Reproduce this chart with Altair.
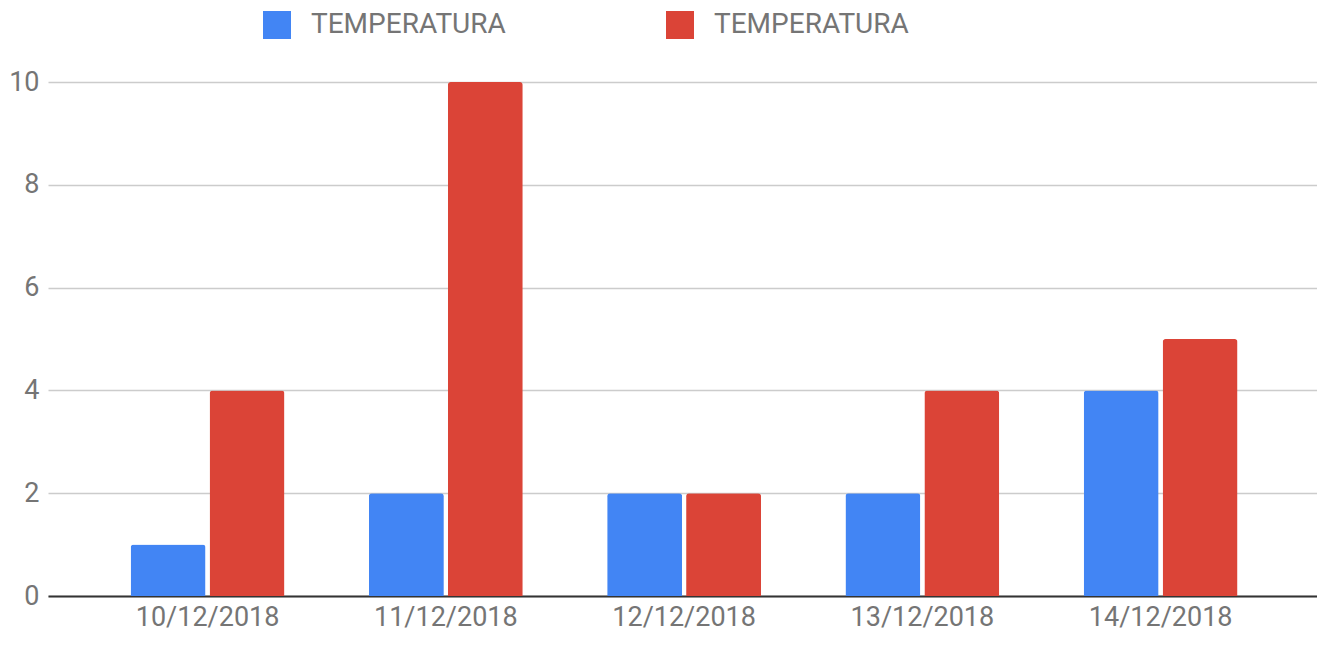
import altair as alt
import pandas as pd

dates = ["10/12/2018", "11/12/2018", "12/12/2018", "13/12/2018", "14/12/2018"]
series_names = ["TEMPERATURA (1)", "TEMPERATURA (2)"]
blue_vals = [1, 2, 2, 2, 4]
red_vals = [4, 10, 2, 4, 5]
y_ticks = [0, 2, 4, 6, 8, 10]
colors = ["#4285F4", "#DB4437"]

rows = []
for d, b, r in zip(dates, blue_vals, red_vals):
    rows.append({"fecha": d, "serie": series_names[0], "valor": b})
    rows.append({"fecha": d, "serie": series_names[1], "valor": r})
df = pd.DataFrame(rows)

FONT = "Roboto"
GREY = "#757575"

chart = alt.Chart(df).mark_bar(cornerRadiusTopLeft=3, cornerRadiusTopRight=3).encode(
    x=alt.X(
        "fecha:N", sort=dates, title=None,
        scale=alt.Scale(paddingInner=0.354, paddingOuter=0.34, align=0.51),
        axis=alt.Axis(labelAngle=0, labelFont=FONT, labelFontSize=27, labelColor=GREY,
                      ticks=False, tickSize=0, labelPadding=8,
                      domainColor="#333333", domainWidth=2, grid=False),
    ),
    xOffset=alt.XOffset("serie:N", sort=series_names,
                        scale=alt.Scale(paddingInner=0.05, paddingOuter=0)),
    y=alt.Y(
        "valor:Q", title=None, scale=alt.Scale(domain=[0, 10]),
        axis=alt.Axis(values=y_ticks, labelFont=FONT, labelFontSize=27, labelColor=GREY,
                      ticks=False, tickSize=0, labelPadding=9, domain=False,
                      gridColor="#cccccc", gridWidth=1.5),
    ),
    color=alt.Color(
        "serie:N", sort=series_names,
        scale=alt.Scale(domain=series_names, range=colors),
        legend=alt.Legend(
            title=None, orient="none", legendX=215, legendY=-71, direction="horizontal",
            symbolType="square", symbolSize=784, symbolStrokeWidth=0, symbolOpacity=1,
            labelFont=FONT, labelFontSize=28, labelColor=GREY, labelOffset=20,
            labelLimit=400, columnPadding=160, padding=0, labelExpr="'TEMPERATURA'",
        ),
    ),
).properties(
    width=1269, height=514,
    padding={"left": 40, "top": 74, "right": 0, "bottom": 37},
    autosize=alt.AutoSizeParams(type="none"),
).configure_view(stroke=None)

chart.save("out.html", embed_options={"renderer": "svg", "actions": False})
